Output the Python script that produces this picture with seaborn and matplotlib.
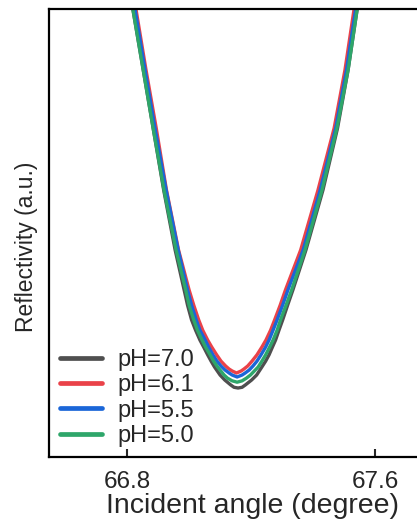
import matplotlib
matplotlib.use("Agg")
import matplotlib.pyplot as plt
import seaborn as sns
import pandas as pd

# ---- data ----
labels = ["pH=7.0", "pH=6.1", "pH=5.5", "pH=5.0"]
colors = ["#4f4f4f", "#ea4249", "#1b66d8", "#2ea66a"]

angle_ph70 = [66.797, 66.819, 66.852, 66.884, 66.918, 66.955, 66.984, 66.995, 67.008, 67.021,
              67.035, 67.047, 67.060, 67.071, 67.082, 67.100, 67.115, 67.134, 67.145, 67.158,
              67.171, 67.182, 67.202, 67.218, 67.235, 67.247, 67.258, 67.269, 67.279, 67.290,
              67.302, 67.318, 67.335, 67.377, 67.432, 67.479, 67.513, 67.542, 67.561]
refl_ph70 = [1.087, 0.998, 0.864, 0.734, 0.596, 0.462, 0.373, 0.339, 0.306, 0.283,
             0.261, 0.2455, 0.228, 0.214, 0.201, 0.183, 0.172, 0.161, 0.1556, 0.154,
             0.1556, 0.161, 0.172, 0.183, 0.201, 0.214, 0.228, 0.2455, 0.261, 0.283,
             0.306, 0.339, 0.373, 0.462, 0.596, 0.734, 0.864, 0.998, 1.087]

angle_ph61 = [66.808, 66.829, 66.861, 66.894, 66.927, 66.966, 67.000, 67.015, 67.031, 67.044,
              67.060, 67.073, 67.089, 67.103, 67.118, 67.129, 67.139, 67.153,
              67.168, 67.177, 67.189, 67.203, 67.219, 67.235, 67.248, 67.263, 67.276, 67.294,
              67.311, 67.360, 67.416, 67.468, 67.503, 67.532, 67.552]
refl_ph61 = [1.087, 0.998, 0.864, 0.734, 0.596, 0.462, 0.373, 0.339, 0.306, 0.283,
             0.261, 0.2455, 0.228, 0.214, 0.203, 0.1964, 0.192, 0.1875,
             0.192, 0.1964, 0.203, 0.214, 0.228, 0.2455, 0.261, 0.283, 0.306, 0.339,
             0.373, 0.462, 0.596, 0.734, 0.864, 0.998, 1.087]

angle_ph55 = [66.803, 66.826, 66.858, 66.890, 66.926, 66.965, 66.995, 67.008, 67.023, 67.035,
              67.052, 67.063, 67.077, 67.090, 67.103, 67.116, 67.129, 67.139, 67.155,
              67.171, 67.181, 67.194, 67.206, 67.219, 67.232, 67.247, 67.258, 67.271, 67.284,
              67.302, 67.319, 67.368, 67.423, 67.473, 67.508, 67.537, 67.556]
refl_ph55 = [1.087, 0.998, 0.864, 0.734, 0.596, 0.462, 0.373, 0.339, 0.306, 0.283,
             0.261, 0.2455, 0.228, 0.214, 0.203, 0.1942, 0.1875, 0.183, 0.1786,
             0.183, 0.1875, 0.1942, 0.203, 0.214, 0.228, 0.2455, 0.261, 0.283, 0.306,
             0.339, 0.373, 0.462, 0.596, 0.734, 0.864, 0.998, 1.087]

angle_ph50 = [66.798, 66.819, 66.852, 66.884, 66.919, 66.958, 66.989, 67.000, 67.015, 67.027,
              67.042, 67.053, 67.068, 67.079, 67.092, 67.113, 67.124, 67.139, 67.155,
              67.171, 67.185, 67.198, 67.223, 67.235, 67.247, 67.260, 67.271, 67.284, 67.295,
              67.313, 67.331, 67.374, 67.429, 67.477, 67.513, 67.542, 67.561]
refl_ph50 = [1.087, 0.998, 0.864, 0.734, 0.596, 0.462, 0.373, 0.339, 0.306, 0.283,
             0.261, 0.2455, 0.228, 0.214, 0.201, 0.183, 0.176, 0.170, 0.167,
             0.170, 0.176, 0.183, 0.201, 0.214, 0.228, 0.2455, 0.261, 0.283, 0.306,
             0.339, 0.373, 0.462, 0.596, 0.734, 0.864, 0.998, 1.087]

xticks = [66.8, 67.6]
xtick_labels = ["66.8", "67.6"]

# ---- build long table ----
frames = []
for lab, a, r in zip(labels,
                     [angle_ph70, angle_ph61, angle_ph55, angle_ph50],
                     [refl_ph70, refl_ph61, refl_ph55, refl_ph50]):
    frames.append(pd.DataFrame({"angle": a, "refl": r, "series": lab}))
df = pd.concat(frames, ignore_index=True)

sns.set_style("ticks")
plt.rcParams["font.family"] = ["Liberation Sans", "DejaVu Sans"]

fig = plt.figure(figsize=(4.17, 5.21), dpi=100)
ax = fig.add_axes([49 / 417, 64 / 521, 406 / 417, 448 / 521])

sns.lineplot(data=df, x="angle", y="refl", hue="series", hue_order=labels,
             palette=colors, estimator=None, sort=False, linewidth=2.4, ax=ax)

ax.set_xlim(66.548, 67.858)
ax.set_ylim(0, 1)
ax.set_xticks(xticks)
ax.set_xticklabels(xtick_labels)
ax.set_yticks([])
ax.tick_params(axis="x", direction="in", length=6, width=1.5, labelsize=17.5, pad=10)
for s in ax.spines.values():
    s.set_linewidth(1.6)
    s.set_color("black")
    s.set_visible(True)

ax.set_xlabel("Incident angle (degree)", fontsize=20.5, labelpad=0)
ax.set_ylabel("Reflectivity (a.u.)", fontsize=16.5)
ax.yaxis.set_label_coords(-0.027, 0.47)

leg = ax.legend(loc="upper left", bbox_to_anchor=(11 / 406, 0.2413), frameon=False,
                fontsize=17, handlelength=1.78, handletextpad=0.64, labelspacing=0.14,
                borderpad=0, borderaxespad=0)
for h in leg.get_lines():
    h.set_linewidth(3.4)

fig.savefig("out.png", dpi=100)
